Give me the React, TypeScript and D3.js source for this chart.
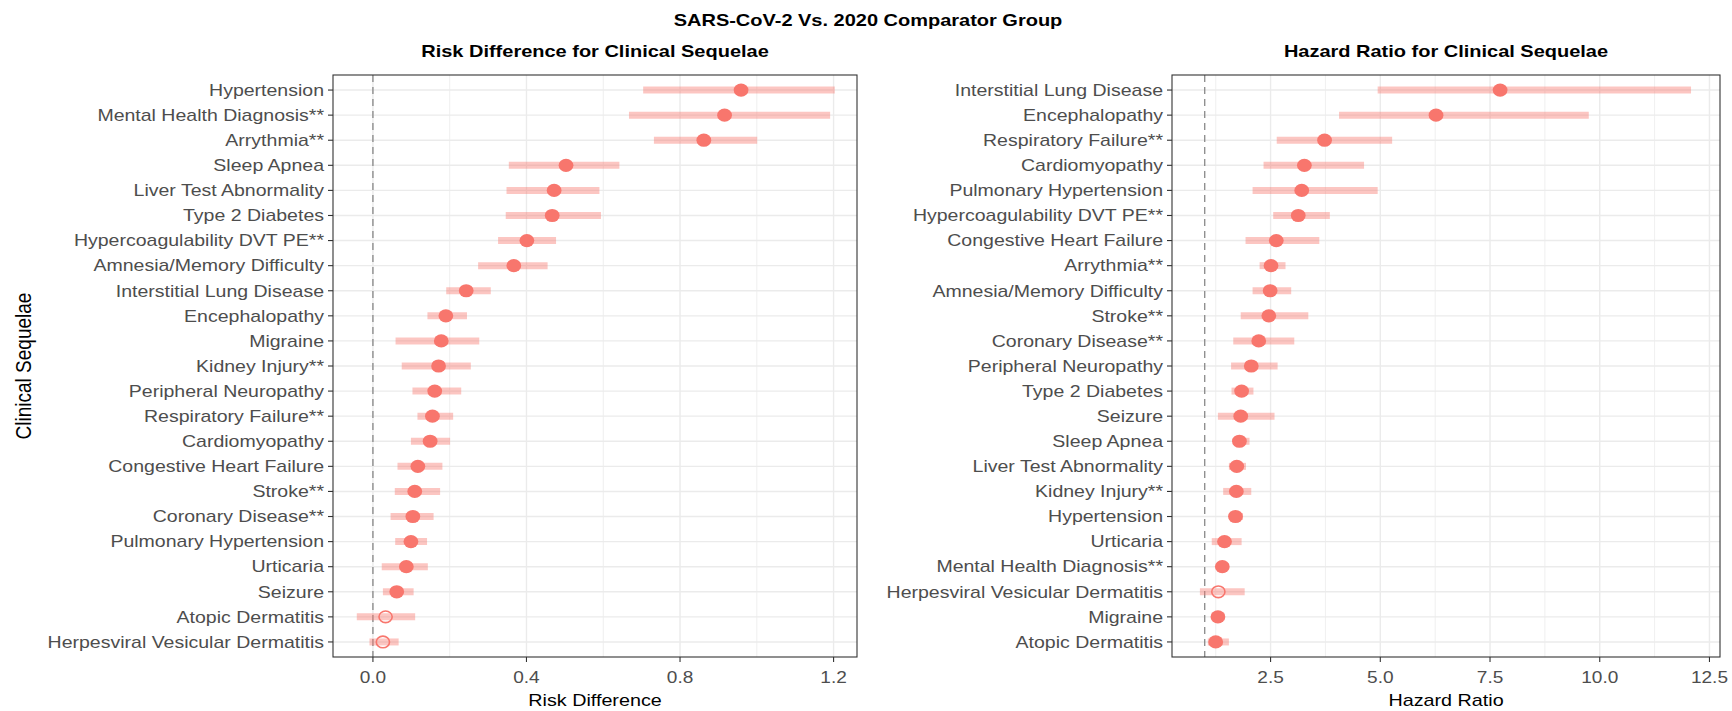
import React from 'react';
import * as d3 from 'd3';

// ---- data ----
var rdCategories = ["Hypertension", "Mental Health Diagnosis**", "Arrythmia**", "Sleep Apnea", "Liver Test Abnormality", "Type 2 Diabetes", "Hypercoagulability DVT PE**", "Amnesia/Memory Difficulty", "Interstitial Lung Disease", "Encephalopathy", "Migraine", "Kidney Injury**", "Peripheral Neuropathy", "Respiratory Failure**", "Cardiomyopathy", "Congestive Heart Failure", "Stroke**", "Coronary Disease**", "Pulmonary Hypertension", "Urticaria", "Seizure", "Atopic Dermatitis", "Herpesviral Vesicular Dermatitis"];
var rdEstimate = [0.959, 0.916, 0.862, 0.503, 0.472, 0.467, 0.401, 0.367, 0.243, 0.190, 0.178, 0.171, 0.161, 0.155, 0.149, 0.117, 0.109, 0.104, 0.099, 0.087, 0.062, 0.033, 0.026];
var rdLower = [0.704, 0.667, 0.732, 0.354, 0.348, 0.346, 0.326, 0.274, 0.191, 0.142, 0.059, 0.075, 0.103, 0.116, 0.099, 0.064, 0.057, 0.046, 0.058, 0.023, 0.026, -0.042, -0.009];
var rdUpper = [1.203, 1.191, 1.001, 0.642, 0.590, 0.594, 0.477, 0.455, 0.307, 0.245, 0.277, 0.255, 0.230, 0.209, 0.201, 0.181, 0.175, 0.158, 0.141, 0.143, 0.106, 0.110, 0.067];
var rdTicks = [0, 0.4, 0.8, 1.2];

var hrCategories = ["Interstitial Lung Disease", "Encephalopathy", "Respiratory Failure**", "Cardiomyopathy", "Pulmonary Hypertension", "Hypercoagulability DVT PE**", "Congestive Heart Failure", "Arrythmia**", "Amnesia/Memory Difficulty", "Stroke**", "Coronary Disease**", "Peripheral Neuropathy", "Type 2 Diabetes", "Seizure", "Sleep Apnea", "Liver Test Abnormality", "Kidney Injury**", "Hypertension", "Urticaria", "Mental Health Diagnosis**", "Herpesviral Vesicular Dermatitis", "Migraine", "Atopic Dermatitis"];
var hrEstimate = [7.73, 6.27, 3.73, 3.27, 3.21, 3.13, 2.63, 2.51, 2.49, 2.46, 2.23, 2.06, 1.84, 1.82, 1.79, 1.73, 1.72, 1.70, 1.45, 1.40, 1.31, 1.30, 1.25];
var hrLower = [4.94, 4.06, 2.64, 2.34, 2.09, 2.56, 1.93, 2.25, 2.09, 1.82, 1.65, 1.60, 1.61, 1.30, 1.64, 1.55, 1.42, 1.56, 1.16, 1.27, 0.89, 1.15, 1.07];
var hrUpper = [12.08, 9.75, 5.27, 4.63, 4.94, 3.85, 3.61, 2.84, 2.97, 3.36, 3.04, 2.66, 2.11, 2.59, 2.02, 1.94, 2.06, 1.87, 1.84, 1.55, 1.91, 1.46, 1.55];
var hrTicks = [2.5, 5.0, 7.5, 10.0, 12.5];

var W = 1732, H = 711;
var SX = 1.19; // the reference is stretched horizontally
var FONT = "'Liberation Sans', Arial, sans-serif";
var RED = "#F8766D";
var GRID = "#EBEBEB";

function SText(props) {
    var x = props.x, y = props.y, rotate = props.rotate;
    return (
        <g transform={"translate(" + x + "," + y + ") scale(" + SX + ",1)" + (rotate ? " rotate(" + rotate + ")" : "")}>
            <text x={0} y={0} textAnchor={props.anchor || "middle"} fontFamily={FONT} fontSize={props.size}
                fontWeight={props.weight || "normal"} fill={props.fill || "#000"}>{props.children}</text>
        </g>
    );
}

function Panel(props) {
    var left = props.left, right = props.right, top = 75, bottom = 657;
    var x = d3.scaleLinear().domain(props.domain).range([left, right]);
    var y = d3.scalePoint().domain(props.categories).range([top, bottom]).padding(0.6);
    var minor = [];
    for (var i = 0; i < props.ticks.length; i++) {
        var step = props.ticks[1] - props.ticks[0];
        minor.push(props.ticks[i] - step / 2);
    }
    minor.push(props.ticks[props.ticks.length - 1] + (props.ticks[1] - props.ticks[0]) / 2);
    minor = minor.filter(function (m) { return m > props.domain[0] && m < props.domain[1]; });
    var cx = (left + right) / 2;
    var fmt = d3.format(".1f");
    return (
        <g>
            <rect x={left} y={top} width={right - left} height={bottom - top} fill="#fff" />
            {minor.map(function (m) {
                return <line key={"mn" + m} x1={x(m)} x2={x(m)} y1={top} y2={bottom} stroke={GRID} strokeWidth={0.8} />;
            })}
            {props.ticks.map(function (t) {
                return <line key={"mj" + t} x1={x(t)} x2={x(t)} y1={top} y2={bottom} stroke={GRID} strokeWidth={1.4} />;
            })}
            {props.categories.map(function (c) {
                return <line key={"hg" + c} x1={left} x2={right} y1={y(c)} y2={y(c)} stroke={GRID} strokeWidth={1.4} />;
            })}
            <line x1={x(props.nullValue)} x2={x(props.nullValue)} y1={top} y2={bottom} stroke="#7f7f7f" strokeWidth={1.2} strokeDasharray="7,5" />
            {props.categories.map(function (c, i) {
                return <line key={"ci" + c} x1={x(props.lower[i])} x2={x(props.upper[i])} y1={y(c)} y2={y(c)}
                    stroke={RED} strokeOpacity={0.42} strokeWidth={7} />;
            })}
            {props.categories.map(function (c, i) {
                var hollow = props.lower[i] < props.nullValue;
                return hollow
                    ? <ellipse key={"pt" + c} cx={x(props.estimate[i])} cy={y(c)} rx={6.6} ry={5.8} fill="none" stroke={RED} strokeWidth={1.6} />
                    : <ellipse key={"pt" + c} cx={x(props.estimate[i])} cy={y(c)} rx={7.4} ry={6.6} fill={RED} />;
            })}
            <rect x={left} y={top} width={right - left} height={bottom - top} fill="none" stroke="#333" strokeWidth={1.1} />
            {props.categories.map(function (c) {
                return (
                    <g key={"yl" + c}>
                        <line x1={left - 5} x2={left} y1={y(c)} y2={y(c)} stroke="#333" strokeWidth={1.1} />
                        <SText x={left - 9} y={y(c) + 5.8} anchor="end" size={16.4} fill="#4D4D4D">{c}</SText>
                    </g>
                );
            })}
            {props.ticks.map(function (t) {
                return (
                    <g key={"xl" + t}>
                        <line x1={x(t)} x2={x(t)} y1={bottom} y2={bottom + 5} stroke="#333" strokeWidth={1.1} />
                        <SText x={x(t)} y={bottom + 26} size={16} fill="#4D4D4D">{fmt(t)}</SText>
                    </g>
                );
            })}
            <SText x={cx} y={57} size={16.8} weight="bold">{props.title}</SText>
            <SText x={cx} y={706} size={16.6}>{props.xTitle}</SText>
        </g>
    );
}

export default function App() {
    return (
        <svg width={W} height={H} style={{ position: "absolute", left: 0, top: 0, background: "#fff" }}>
            <rect x={0} y={0} width={W} height={H} fill="#fff" />
            <SText x={868} y={26} size={16.8} weight="bold">SARS-CoV-2 Vs. 2020 Comparator Group</SText>
            <SText x={31} y={366} size={19} rotate={-90}>Clinical Sequelae</SText>
            <Panel left={333} right={857} domain={[-0.104, 1.261]} ticks={rdTicks} nullValue={0}
                categories={rdCategories} estimate={rdEstimate} lower={rdLower} upper={rdUpper}
                title="Risk Difference for Clinical Sequelae" xTitle="Risk Difference" />
            <Panel left={1172} right={1720} domain={[0.254, 12.74]} ticks={hrTicks} nullValue={1}
                categories={hrCategories} estimate={hrEstimate} lower={hrLower} upper={hrUpper}
                title="Hazard Ratio for Clinical Sequelae" xTitle="Hazard Ratio" />
        </svg>
    );
}
